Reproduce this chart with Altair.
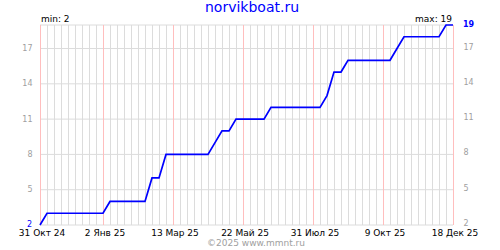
import altair as alt
import pandas as pd

# ---- data ----
dates = pd.date_range("2024-10-31", "2025-12-18", freq="7D").strftime("%Y-%m-%d").tolist()
values = [2, 3, 3, 3, 3, 3, 3, 3, 3, 3,
          4, 4, 4, 4, 4, 4,
          6, 6,
          8, 8, 8, 8, 8, 8, 8,
          9,
          10, 10,
          11, 11, 11, 11, 11,
          12, 12, 12, 12, 12, 12, 12, 12,
          13,
          15, 15,
          16, 16, 16, 16, 16, 16, 16,
          17,
          18, 18, 18, 18, 18, 18,
          19, 19]
tick_dates = ["2024-10-31", "2025-01-02", "2025-03-13", "2025-05-22",
              "2025-07-31", "2025-10-09", "2025-12-18"]
tick_labels = ["31 Окт 24", "2 Янв 25", "13 Мар 25", "22 Май 25",
               "31 Июл 25", "9 Окт 25", "18 Дек 25"]
y_ticks = [2, 5, 8, 11, 14, 17]
y_min, y_max = 2, 19

FONT = "DejaVu Sans"
BLUE = "#0000ff"
GREY_GRID = "#dcdcdc"
RED_GRID = "#ffbebe"
GREY_TEXT = "#a0a0a0"

df = pd.DataFrame({"date": dates, "value": values})
weeks = pd.DataFrame({"wdate": [d for d in dates if d not in tick_dates]})
ticks = pd.DataFrame({"tdate": tick_dates, "label": tick_labels})
hlines = pd.DataFrame({"value": y_ticks + [y_max]})


def dt(s):
    y, m, d = map(int, s.split("-"))
    return alt.DateTime(year=y, month=m, date=d, utc=True)


xscale = alt.Scale(type="utc", domain=[dt(tick_dates[0]), dt(tick_dates[-1])])
yscale = alt.Scale(domain=[y_min, y_max], nice=False, zero=False)

grey_v = alt.Chart(weeks).mark_rule(color=GREY_GRID, strokeWidth=1, xOffset=0.5).encode(
    x=alt.X("wdate:T", scale=xscale, axis=None))
grey_h = alt.Chart(hlines).mark_rule(color=GREY_GRID, strokeWidth=1).encode(
    y=alt.Y("value:Q", scale=yscale, axis=None))
red_v = alt.Chart(ticks).mark_rule(color=RED_GRID, strokeWidth=1, xOffset=0.5).encode(
    x=alt.X("tdate:T", scale=xscale, axis=None))
x_labels = alt.Chart(ticks).mark_text(
    font=FONT, fontSize=9, color="black", align="center", baseline="alphabetic",
    dx=2).encode(
    x=alt.X("tdate:T", scale=xscale, axis=None), y=alt.value(211), text="label:N")

line = alt.Chart(df).mark_line(color=BLUE, strokeWidth=1.7).encode(
    x=alt.X("date:T", scale=xscale, axis=None),
    y=alt.Y("value:Q", scale=yscale,
            axis=alt.Axis(orient="left", values=y_ticks[1:], labelFont=FONT,
                          labelFontSize=8, labelColor=GREY_TEXT, labelPadding=8,
                          ticks=False, domain=False, grid=False, title=None)),
)
right_axis = alt.Chart(hlines).mark_point(opacity=0).encode(
    y=alt.Y("value:Q", scale=yscale,
            axis=alt.Axis(orient="right", values=y_ticks, labelFont=FONT,
                          labelFontSize=8, labelColor=GREY_TEXT, labelPadding=10,
                          labelOffset=-1.5, ticks=False, domain=False, grid=False,
                          title=None)),
)


def txt(text, x, y, color="black", size=9, align="left", baseline="alphabetic",
        weight="normal"):
    return alt.Chart(pd.DataFrame({"t": [text]})).mark_text(
        font=FONT, fontSize=size, color=color, align=align, baseline=baseline,
        fontWeight=weight).encode(text="t:N", x=alt.value(x), y=alt.value(y))


title = txt("norvikboat.ru", 212, -13, color=BLUE, size=14, align="center")
min_t = txt("min: %d" % y_min, 1, -3)
max_t = txt("max: %d" % y_max, 412, -3, align="right")
blue_max = txt(str(y_max), 423, 0, color=BLUE, size=8, baseline="middle", weight="bold")
blue_min = txt(str(y_min), -8, 202, color=BLUE, size=8, align="right")
copy_t = txt("©2025 www.mmnt.ru", 216, 221, color=GREY_TEXT, size=9, align="center")

chart = alt.layer(
    grey_v, grey_h, red_v, line, right_axis, x_labels,
    title, min_t, max_t, blue_max, blue_min, copy_t
).properties(
    width=413, height=200,
    padding={"left": 40, "top": 25, "right": 47, "bottom": 25},
    autosize="none", background="white",
).configure_view(stroke=None)

chart.save("out.html", embed_options={"renderer": "svg", "actions": False})
